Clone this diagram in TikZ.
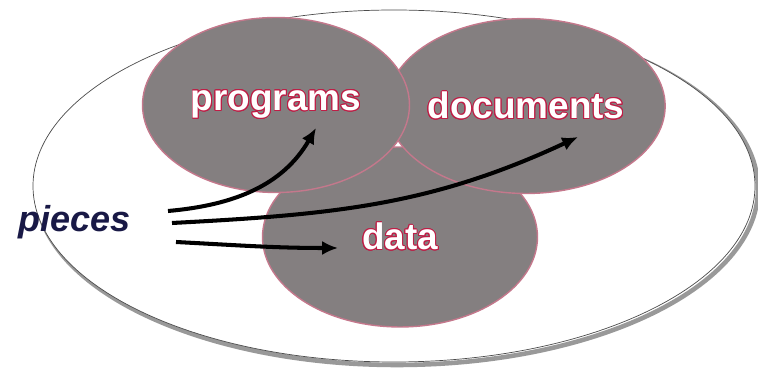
\documentclass[tikz,border=0pt]{standalone}
\usepackage{fontspec}
\setmainfont{Liberation Sans}
\usepackage[copies]{contour}
\usetikzlibrary{arrows.meta,shapes.geometric}
\definecolor{setgray}{RGB}{132,127,128}
\definecolor{setedge}{RGB}{196,120,140}
\definecolor{glowred}{RGB}{190,30,70}
\definecolor{piecesblue}{RGB}{25,25,70}
\contourlength{0.5pt}

\begin{document}
\begin{tikzpicture}[
    x=0.02cm, y=0.02cm,
    set/.style={ellipse, draw=setedge, line width=0.8pt, fill=setgray, inner sep=0pt,
        minimum height=3.5cm, text=white, font=\bfseries\fontsize{21}{24}\selectfont},
    feed/.style={-{Latex[length=9pt,width=8pt]}, line width=2.3pt, black}
]
\useasboundingbox (0,0) rectangle (758,368);
% the whole, with its shadow
\draw[gray!80, line width=2.6pt] (397,179) ellipse [x radius=361, y radius=176];
\draw[black!70, fill=white, line width=0.4pt] (394,182) ellipse [x radius=361, y radius=176];
% the three sets
\node[set, minimum width=5.5cm, minimum height=3.6cm] (data) at (400,131) {\contour{glowred}{data}};
\node[set, minimum width=5.4cm] (documents) at (526,262) {\contour{glowred}{documents}};
\node[set, minimum width=5.34cm] (programs) at (276,263) {\contour{glowred}{programs}};
\node[anchor=base west, text=piecesblue, font=\bfseries\itshape\fontsize{20.5}{24}\selectfont]
    (pieces) at (12,136) {pieces};
% arrows
\coordinate (s1) at (168,157);
\coordinate (t1) at (316,240);
\coordinate (s2) at (172,145);
\coordinate (t2) at (578,231);
\coordinate (s3) at (176,126);
\coordinate (t3) at (338,120);
\draw[feed] (s1) to[out=5, in=-120] (t1);
\draw[feed] (s2) to[out=3, in=-155] (t2);
\draw[feed] (s3) to[out=-3, in=180] (t3);
\end{tikzpicture}
\end{document}
